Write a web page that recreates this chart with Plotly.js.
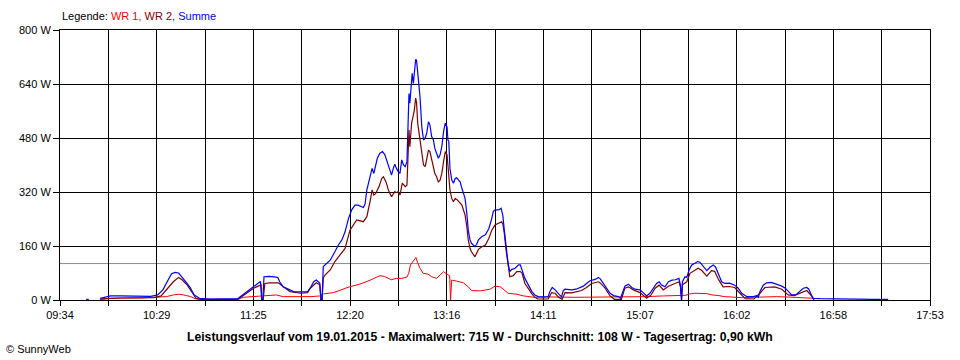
<!DOCTYPE html>
<html>
<head>
<meta charset="utf-8">
<script src="https://cdn.plot.ly/plotly-3.0.1.min.js"></script>
<style>html,body{margin:0;padding:0;background:#fff;}#chart{width:960px;height:360px;}</style>
</head>
<body>
<div id="chart"></div>
<script>
// ---- data ----
const tickLabels = ["09:34","","10:29","","11:25","","12:20","","13:16","","14:11","","15:07","","16:02","","16:58","","17:53"];
const yTickValues = [0,160,320,480,640,800];
const yTickLabels = ["0 W","160 W","320 W","480 W","640 W","800 W"];
const averageW = 108;

const sumTimes = ["09:49:00","09:50:30","09:53:00","09:57:00","10:00:00","10:03:00","10:08:00","10:14:00","10:20:00","10:26:00","10:30:00","10:33:00","10:36:00","10:38:00","10:40:00","10:42:00","10:44:00","10:46:00","10:48:30","10:51:00","10:54:00","11:00:00","11:06:00","11:12:00","11:16:00","11:17:00","11:20:00","11:23:00","11:26:00","11:28:00","11:29:00","11:29:40","11:30:20","11:31:00","11:34:00","11:38:00","11:39:00","11:40:00","11:42:00","11:44:00","11:46:00","11:48:00","11:52:00","11:56:00","11:57:30","11:59:30","12:01:00","12:03:00","12:03:40","12:04:20","12:05:00","12:07:00","12:09:00","12:11:40","12:13:40","12:15:40","12:17:30","12:19:30","12:21:20","12:23:10","12:25:00","12:28:00","12:29:00","12:30:00","12:32:00","12:33:00","12:34:00","12:35:00","12:36:00","12:37:30","12:39:00","12:40:20","12:41:20","12:42:20","12:43:20","12:44:10","12:45:10","12:46:00","12:47:00","12:48:00","12:49:00","12:50:00","12:51:00","12:52:00","12:53:00","12:53:30","12:54:10","12:54:40","12:55:20","12:56:00","12:56:40","12:57:10","12:58:00","12:58:30","12:59:10","12:59:30","13:00:30","13:01:30","13:02:30","13:03:20","13:04:20","13:05:20","13:06:10","13:07:10","13:08:10","13:09:00","13:10:00","13:11:00","13:12:00","13:13:00","13:14:00","13:15:00","13:16:00","13:16:30","13:17:00","13:17:40","13:18:40","13:19:40","13:20:40","13:21:30","13:22:30","13:23:30","13:24:30","13:25:20","13:26:20","13:27:20","13:28:10","13:29:10","13:30:00","13:32:00","13:33:00","13:34:00","13:36:00","13:38:00","13:40:00","13:41:40","13:42:30","13:43:30","13:45:30","13:47:00","13:48:00","13:48:50","13:49:50","13:51:00","13:52:00","13:53:00","13:55:00","13:57:00","13:58:00","13:59:00","14:00:40","14:02:40","14:04:40","14:06:20","14:08:20","14:11:00","14:14:00","14:15:00","14:16:20","14:18:00","14:19:30","14:20:30","14:21:40","14:22:40","14:23:40","14:27:30","14:30:00","14:32:20","14:34:10","14:36:00","14:38:00","14:41:00","14:42:50","14:44:00","14:45:40","14:47:40","14:49:30","14:51:30","14:54:10","14:55:30","14:56:30","14:58:00","15:00:00","15:02:00","15:03:50","15:06:40","15:08:30","15:10:30","15:12:20","15:14:20","15:16:10","15:17:40","15:19:00","15:21:00","15:23:00","15:25:00","15:27:00","15:29:00","15:29:50","15:30:30","15:31:00","15:32:30","15:33:30","15:34:50","15:36:20","15:38:10","15:39:40","15:41:00","15:43:00","15:45:00","15:46:50","15:48:40","15:50:00","15:51:40","15:53:30","15:55:20","15:58:00","16:01:00","16:03:00","16:05:00","16:08:00","16:11:40","16:13:30","16:14:30","16:15:30","16:17:20","16:19:20","16:22:00","16:25:00","16:28:00","16:30:00","16:31:40","16:33:40","16:36:00","16:38:20","16:40:20","16:42:20","16:43:30","16:45:00","16:46:00","16:50:00","16:58:00","17:10:00","17:20:00","17:29:00"];
const sumW = [2,2,null,5,8,12,12,11,10,11,15,30,59,78,82,80,68,54,38,15,5,3,3,3,4,8,20,33,44,51,55,0,0,69,70,68,66,54,39,35,30,25,24,25,35,54,59,50,0,0,99,109,118,143,163,178,202,242,267,281,281,274,285,326,370,390,375,400,420,435,440,430,415,400,380,370,390,402,390,380,375,415,400,395,410,504,612,583,632,672,642,681,713,710,676,652,602,513,474,479,494,528,519,484,474,449,435,420,430,454,499,524,513,474,470,390,356,346,360,362,356,350,331,316,301,257,207,178,168,158,165,178,188,193,212,242,262,267,267,272,250,207,158,109,84,90,94,104,104,89,64,44,25,15,10,9,10,25,37,30,20,15,10,28,32,30,32,37,41,49,57,61,67,62,49,35,20,13,10,5,20,41,47,37,32,30,22,12,20,37,49,54,44,39,54,59,60,64,45,0,54,69,67,89,104,109,114,112,99,87,97,104,98,74,54,49,50,44,35,20,10,10,13,8,25,44,51,52,47,41,35,25,15,15,25,35,37,32,15,5,4,3,2,2,2];

const wr1Times = ["09:58:00","10:01:00","10:10:00","10:20:00","10:28:00","10:35:00","10:39:00","10:42:00","10:45:00","10:49:00","10:52:00","11:00:00","11:10:00","11:16:00","11:19:00","11:25:00","11:32:00","11:38:00","11:42:00","11:50:00","11:58:00","12:03:00","12:05:00","12:11:00","12:15:00","12:20:00","12:26:00","12:30:00","12:32:00","12:34:00","12:37:30","12:40:00","12:44:00","12:47:00","12:50:00","12:53:00","12:54:00","12:55:00","12:56:40","12:58:10","12:59:00","13:00:30","13:02:20","13:05:00","13:07:10","13:10:00","13:12:00","13:14:00","13:16:00","13:17:30","13:18:00","13:18:40","13:21:30","13:25:20","13:28:10","13:30:00","13:35:00","13:40:40","13:43:30","13:46:30","13:48:00","13:51:00","13:56:00","14:00:00","14:06:00","14:15:00","14:30:00","14:45:00","15:00:00","15:10:00","15:20:00","15:30:00","15:33:00","15:35:00","15:38:00","15:45:00","15:48:00","15:52:00","15:55:00","16:05:00","16:15:00","16:25:00","16:35:00","16:45:00","16:46:00"];
const wr1W = [4,5,6,6,7,10,15,17,15,10,3,2,2,2,8,10,12,15,10,9,10,12,18,22,30,39,47,54,59,64,72,70,60,64,64,68,79,104,114,126,112,94,79,77,69,64,74,84,76,72,0,59,56,51,39,28,27,32,41,39,33,20,17,12,8,9,8,8,9,10,12,13,14,18,20,19,15,13,10,7,8,10,8,7,5];

const wr2Times = ["09:57:00","10:00:00","10:03:00","10:10:00","10:20:00","10:28:00","10:32:00","10:35:00","10:39:00","10:42:00","10:44:00","10:47:00","10:49:30","10:52:00","10:55:00","11:10:00","11:16:00","11:21:00","11:25:00","11:28:00","11:29:20","11:29:50","11:30:30","11:31:30","11:34:00","11:39:00","11:40:00","11:42:00","11:46:00","11:52:00","11:56:00","11:57:30","12:01:00","12:03:00","12:03:40","12:04:20","12:05:00","12:06:00","12:09:00","12:11:40","12:14:40","12:17:30","12:20:20","12:22:10","12:24:10","12:28:00","12:30:00","12:32:00","12:33:00","12:34:00","12:35:00","12:37:00","12:38:30","12:39:30","12:41:00","12:42:20","12:44:10","12:46:00","12:47:00","12:48:00","12:49:00","12:50:20","12:52:00","12:53:00","12:53:30","12:54:10","12:54:40","12:55:40","12:56:40","12:57:10","12:58:00","12:58:30","12:59:10","12:59:40","13:00:30","13:01:30","13:02:30","13:03:30","13:04:20","13:05:20","13:06:10","13:07:10","13:08:10","13:09:00","13:10:00","13:11:00","13:12:00","13:13:00","13:14:00","13:15:00","13:16:00","13:16:30","13:17:00","13:17:40","13:18:40","13:19:40","13:20:40","13:22:00","13:24:30","13:25:20","13:26:20","13:27:20","13:28:10","13:29:10","13:30:00","13:32:00","13:33:00","13:34:00","13:36:00","13:38:00","13:40:00","13:41:40","13:43:30","13:45:30","13:47:20","13:48:00","13:48:50","13:49:50","13:51:00","13:52:00","13:54:00","13:56:00","13:58:00","13:59:00","14:00:40","14:02:40","14:04:40","14:06:20","14:08:00","14:14:00","14:16:00","14:18:00","14:20:00","14:22:00","14:23:40","14:27:30","14:33:10","14:36:00","14:39:00","14:42:50","14:44:00","14:46:40","14:49:30","14:52:00","14:56:00","14:58:00","15:00:00","15:02:50","15:06:40","15:10:30","15:13:00","15:15:20","15:17:40","15:20:00","15:23:00","15:26:40","15:29:00","15:29:50","15:30:30","15:31:00","15:33:30","15:35:20","15:38:10","15:40:00","15:42:00","15:45:00","15:47:40","15:49:30","15:51:40","15:54:20","15:58:00","16:01:00","16:04:00","16:07:00","16:12:00","16:15:30","16:18:20","16:24:00","16:28:00","16:31:40","16:35:00","16:39:20","16:42:20","16:45:00","16:46:30"];
const wr2W = [2,4,5,6,6,7,12,30,54,67,60,44,25,5,1,1,2,20,35,42,45,0,0,49,51,51,48,39,25,20,22,35,51,45,0,0,65,74,89,114,133,153,207,222,237,232,247,296,326,311,315,336,360,365,350,326,306,321,318,321,311,346,336,340,444,504,454,524,548,560,598,585,524,504,474,425,400,395,415,444,440,415,390,375,365,350,355,375,410,440,430,395,375,326,301,291,301,296,281,267,252,217,178,153,143,128,140,150,158,163,183,207,222,227,232,225,198,148,99,69,72,84,84,80,49,32,18,8,3,3,22,20,8,2,22,21,28,37,49,54,50,35,12,2,2,35,39,30,22,5,15,35,44,30,41,49,54,40,0,45,54,79,89,94,88,71,87,85,61,39,40,37,20,4,3,20,37,39,32,15,13,22,28,12,0];

// ---- helpers ----
function toMin(s){ const p = s.split(":").map(Number); return p[0]*60 + p[1] + (p[2]||0)/60; }
const x0 = toMin(tickLabels[0]);
const x1 = toMin(tickLabels[tickLabels.length-1]);
const tickVals = tickLabels.map((_, i) => x0 + i*(x1-x0)/(tickLabels.length-1));

const font = {family: "Liberation Sans, Arial, sans-serif", size: 11, color: "#000"};

const traces = [
  {x: wr1Times.map(toMin), y: wr1W, mode: "lines", name: "WR 1", line: {color: "#ff0000", width: 1}},
  {x: wr2Times.map(toMin), y: wr2W, mode: "lines", name: "WR 2", line: {color: "#800000", width: 1.2}},
  {x: sumTimes.map(toMin), y: sumW, mode: "lines", name: "Summe", line: {color: "#0000ff", width: 1.2}}
];

const layout = {
  width: 960, height: 360,
  margin: {l: 60, r: 30, t: 30, b: 60, pad: 0},
  paper_bgcolor: "#fff", plot_bgcolor: "#fff",
  showlegend: false,
  font: font,
  xaxis: {
    range: [x0, x1], tickvals: tickVals, ticktext: tickLabels,
    showgrid: true, gridcolor: "#000", gridwidth: 1,
    showline: true, linecolor: "#000", linewidth: 1, mirror: true,
    ticks: "outside", ticklen: 5, tickcolor: "#000", tickwidth: 1,
    zeroline: false, tickfont: font, fixedrange: true
  },
  yaxis: {
    range: [0, 800], tickvals: yTickValues, ticktext: yTickLabels,
    showgrid: true, gridcolor: "#000", gridwidth: 1,
    showline: true, linecolor: "#000", linewidth: 1, mirror: true,
    ticks: "outside", ticklen: 6, tickcolor: "#000", tickwidth: 1,
    zeroline: false, tickfont: font, fixedrange: true
  },
  shapes: [
    {type: "line", xref: "paper", yref: "y", x0: 0, x1: 1, y0: averageW, y1: averageW,
     line: {color: "#8c8c8c", width: 1}, layer: "between"}
  ],
  annotations: [
    {xref: "paper", yref: "paper", x: 0, y: (300-16)/270, xanchor: "left", yanchor: "middle", showarrow: false,
     font: font,
     text: 'Legende: <span style="color:#ff0000">WR 1,</span> <span style="color:#800000">WR 2,</span> <span style="color:#0000ff">Summe</span>'},
    {xref: "paper", yref: "paper", x: (480-60)/870, y: (300-337)/270, xanchor: "center", yanchor: "middle", showarrow: false,
     font: {family: font.family, size: 12.2, color: "#000"},
     text: "<b>Leistungsverlauf vom 19.01.2015 - Maximalwert: 715 W - Durchschnitt: 108 W - Tagesertrag: 0,90 kWh</b>"},
    {xref: "paper", yref: "paper", x: (4-60)/870, y: (300-349)/270, xanchor: "left", yanchor: "middle", showarrow: false,
     font: {family: font.family, size: 11, color: "#000"},
     text: "© SunnyWeb"}
  ]
};

Plotly.newPlot("chart", traces, layout, {staticPlot: true, displayModeBar: false});
</script>
</body>
</html>
